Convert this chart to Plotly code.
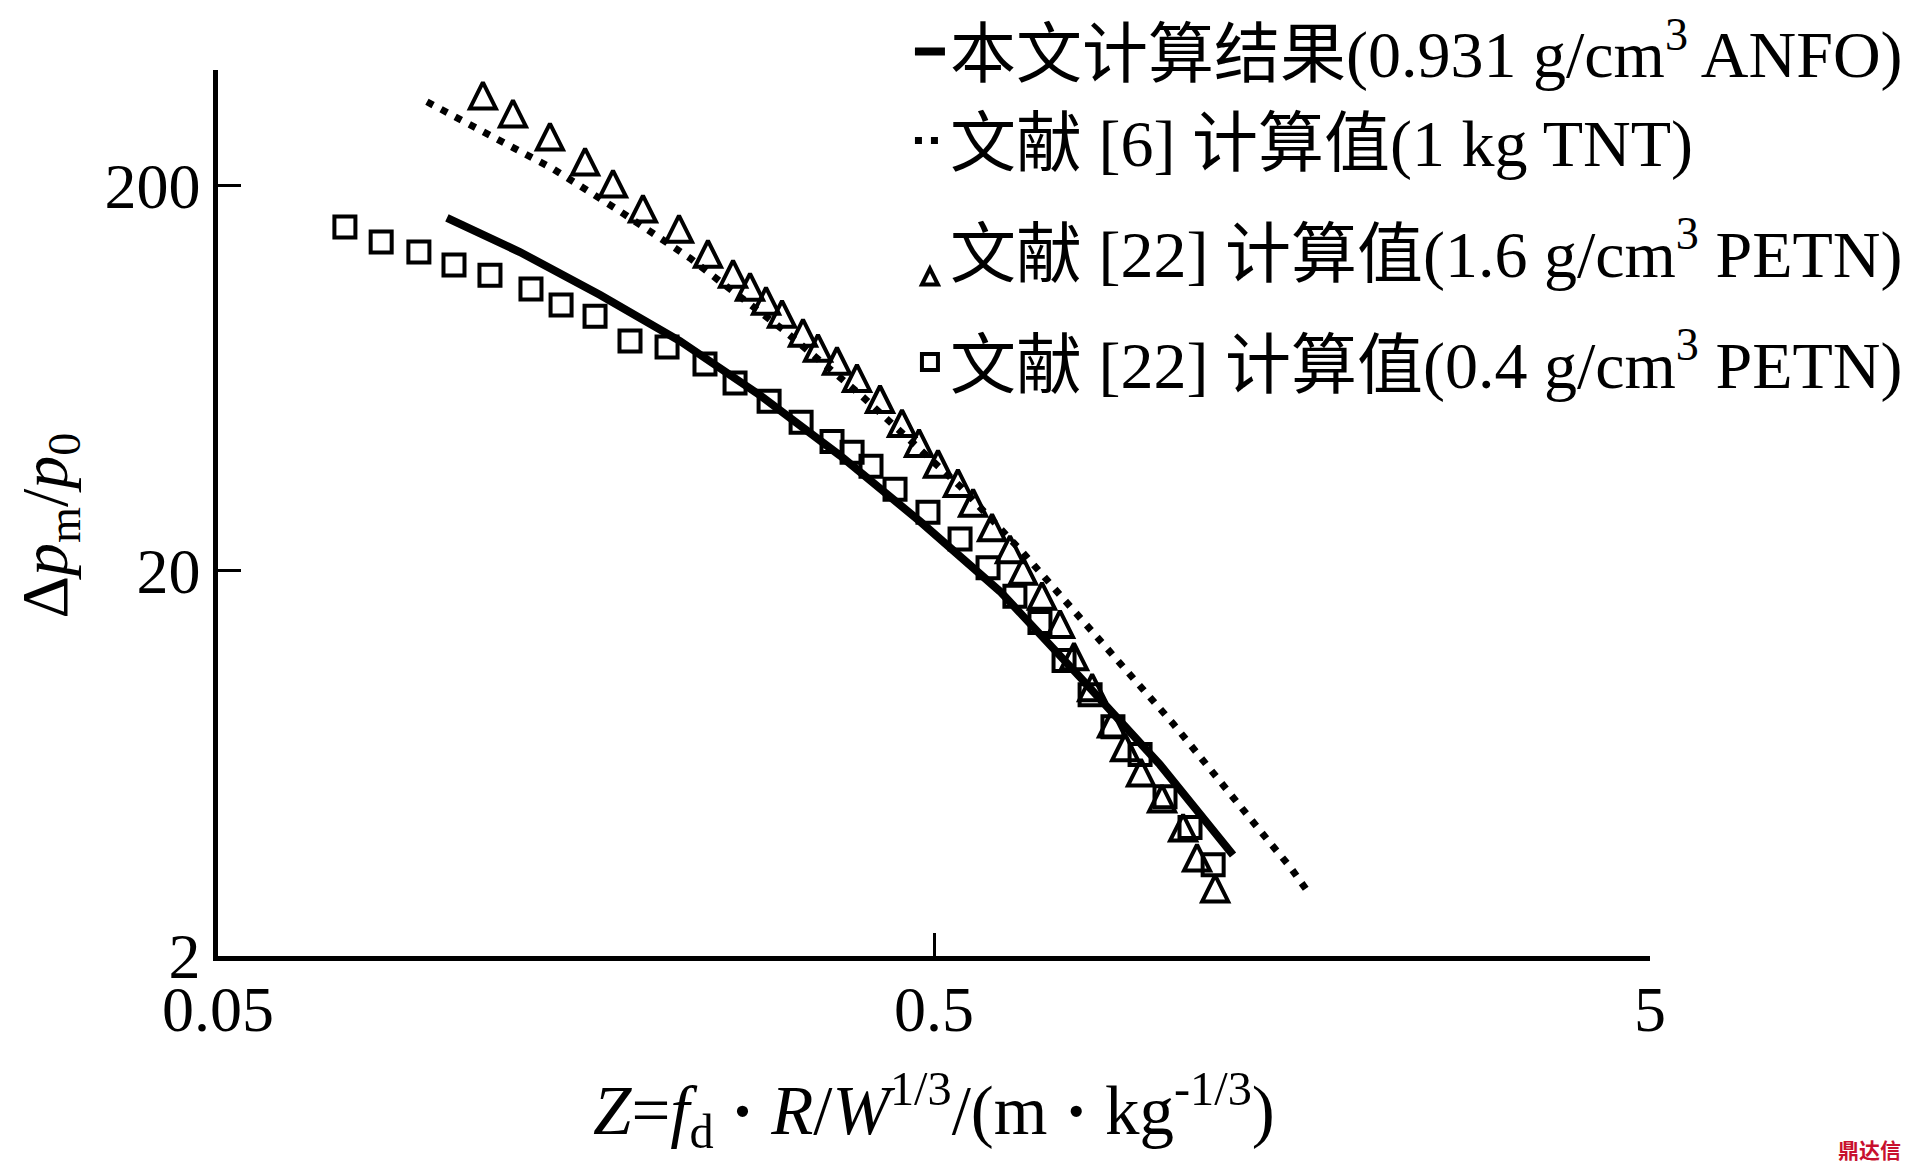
import math
import plotly.graph_objects as go

# ---------------- data ----------------
anfo_x = [0.1044, 0.1320, 0.1709, 0.2209, 0.2857, 0.3695, 0.4780, 0.6183, 0.7996, 1.034, 1.308]
anfo_y = [165.1, 134.7, 104.1, 79.1, 57.2, 39.9, 26.9, 17.7, 10.6, 6.28, 3.66]

tnt_x = [0.0979, 0.1215, 0.1469, 0.1810, 0.2281, 0.2456, 0.3096, 0.3941, 0.5437, 0.6657,
         0.787, 0.872, 0.979, 1.079, 1.176, 1.279, 1.373, 1.474, 1.571, 1.665]
tnt_y = [330.8, 268.2, 221.4, 173.2, 129.9, 116.7, 83.9, 57.5, 33.2, 22.3,
         15.7, 12.7, 9.84, 8.02, 6.59, 5.47, 4.60, 3.93, 3.41, 2.93]

petn16_x = [0.1172, 0.1291, 0.1454, 0.1628, 0.1781, 0.1961, 0.2202, 0.2417, 0.2620, 0.2767,
            0.2913, 0.3067, 0.3281, 0.3443, 0.3660, 0.3903, 0.4203, 0.4511, 0.4765, 0.5065,
            0.5400, 0.5670, 0.6026, 0.6384, 0.6657, 0.7076, 0.7498, 0.7843, 0.8315, 0.8864,
            0.9244, 0.9729, 1.041, 1.114, 1.165, 1.235]
petn16_y = [334.8, 300.6, 261.8, 225.4, 197.6, 170.2, 150.9, 129.9, 115.3, 106.7,
            98.1, 90.7, 81.0, 74.0, 68.5, 61.8, 54.5, 47.2, 41.9, 37.0,
            33.0, 29.3, 25.3, 22.2, 19.5, 16.8, 14.2, 11.7, 9.72, 7.83,
            6.79, 5.84, 5.00, 4.20, 3.51, 2.92]

petn04_x = [0.0752, 0.0845, 0.0954, 0.1068, 0.1199, 0.1368, 0.1507, 0.1681, 0.1881, 0.2119,
            0.2394, 0.2637, 0.2942, 0.3261, 0.3602, 0.3842, 0.4083, 0.4411, 0.4904, 0.5437,
            0.5949, 0.6486, 0.703, 0.7596, 0.826, 0.889, 0.970, 1.051, 1.139, 1.227]
petn04_y = [156.5, 143.0, 134.7, 124.6, 117.3, 107.9, 98.1, 91.8, 79.1, 76.3,
            68.9, 61.5, 55.2, 48.7, 43.4, 40.7, 37.4, 32.6, 28.4, 24.2,
            20.4, 17.2, 14.7, 11.7, 9.54, 7.88, 6.67, 5.18, 4.31, 3.45]

names = ["本文计算结果(0.931 g/cm<sup>3</sup> ANFO)",
         "文献 [6] 计算值(1 kg TNT)",
         "文献 [22] 计算值(1.6 g/cm<sup>3</sup> PETN)",
         "文献 [22] 计算值(0.4 g/cm<sup>3</sup> PETN)"]

x_ticks = [0.05, 0.5, 5]
x_ticktext = ["0.05", "0.5", "5"]
y_ticks = [2, 20, 200, 400]
y_ticktext = ["2", "20", "200", ""]

FONT = "Liberation Serif, Times New Roman, Noto Sans CJK SC, serif"

fig = go.Figure()

fig.add_trace(go.Scatter(x=anfo_x, y=anfo_y, mode="lines", name=names[0], legendgroup="a",
                         line=dict(color="black", width=8)))
fig.add_trace(go.Scatter(x=tnt_x, y=tnt_y, mode="lines", name=names[1], legendgroup="a",
                         line=dict(color="black", width=7, dash="7px,9px")))
tri_size = 26
fig.add_trace(go.Scatter(x=petn16_x, y=petn16_y, mode="markers", name=names[2], legendgroup="c",
                         marker=dict(symbol="arrow-down-open", angle=180,
                                     standoff=tri_size / 2 * 4 / 3, size=tri_size,
                                     color="black", line=dict(color="black", width=4))))
fig.add_trace(go.Scatter(x=petn04_x, y=petn04_y, mode="markers", name=names[3], legendgroup="d",
                         marker=dict(symbol="square-open", size=21,
                                     color="black", line=dict(color="black", width=4))))

fig.update_xaxes(type="log", range=[math.log10(0.05), math.log10(5)],
                 tickvals=x_ticks, ticktext=x_ticktext,
                 ticks="inside", ticklen=23, tickwidth=3, tickcolor="black",
                 showline=True, linewidth=4.5, linecolor="black",
                 showgrid=False, zeroline=False, ticklabelstandoff=-7,
                 tickfont=dict(family=FONT, size=64, color="black"))
fig.update_yaxes(type="log", range=[math.log10(2), math.log10(400)],
                 tickvals=y_ticks, ticktext=y_ticktext,
                 ticks="inside", ticklen=23, tickwidth=3, tickcolor="black",
                 showline=True, linewidth=4.5, linecolor="black",
                 showgrid=False, zeroline=False,
                 tickfont=dict(family=FONT, size=64, color="black"))

fig.add_annotation(text="Δ<i>p</i><sub>m</sub>/<i>p</i><sub>0</sub>", textangle=-90,
                   xref="paper", yref="paper", x=-0.118, y=0.486,
                   xanchor="center", yanchor="middle", showarrow=False,
                   font=dict(family=FONT, size=66, color="black"))
fig.add_annotation(text="<i>Z</i>=<i>f</i><sub>d</sub> <b>·</b> <i>R</i>/<i>W</i><sup>1/3</sup>/(m <b>·</b> kg<sup>-1/3</sup>)",
                   xref="paper", yref="paper", x=0.5, y=-0.174,
                   xanchor="center", yanchor="middle", showarrow=False,
                   font=dict(family=FONT, size=69, color="black"))
fig.add_annotation(text="<b>鼎达信</b>", xref="paper", yref="paper", x=1.1767, y=-0.218,
                   xanchor="right", yanchor="middle", showarrow=False,
                   font=dict(family="Noto Sans CJK SC", size=21, color="#c8102e"))

fig.update_layout(
    width=1913, height=1172,
    margin=dict(l=210, r=271, t=62, b=224, autoexpand=False),
    paper_bgcolor="white", plot_bgcolor="white",
    font=dict(family=FONT, color="black"),
    showlegend=True,
    legend=dict(x=0.4832, y=1.0765, xanchor="left", yanchor="top",
                font=dict(family=FONT, size=66, color="black"),
                bgcolor="rgba(0,0,0,0)", tracegroupgap=22, itemwidth=30,
                traceorder="grouped"),
)

fig.write_html("out.html")
